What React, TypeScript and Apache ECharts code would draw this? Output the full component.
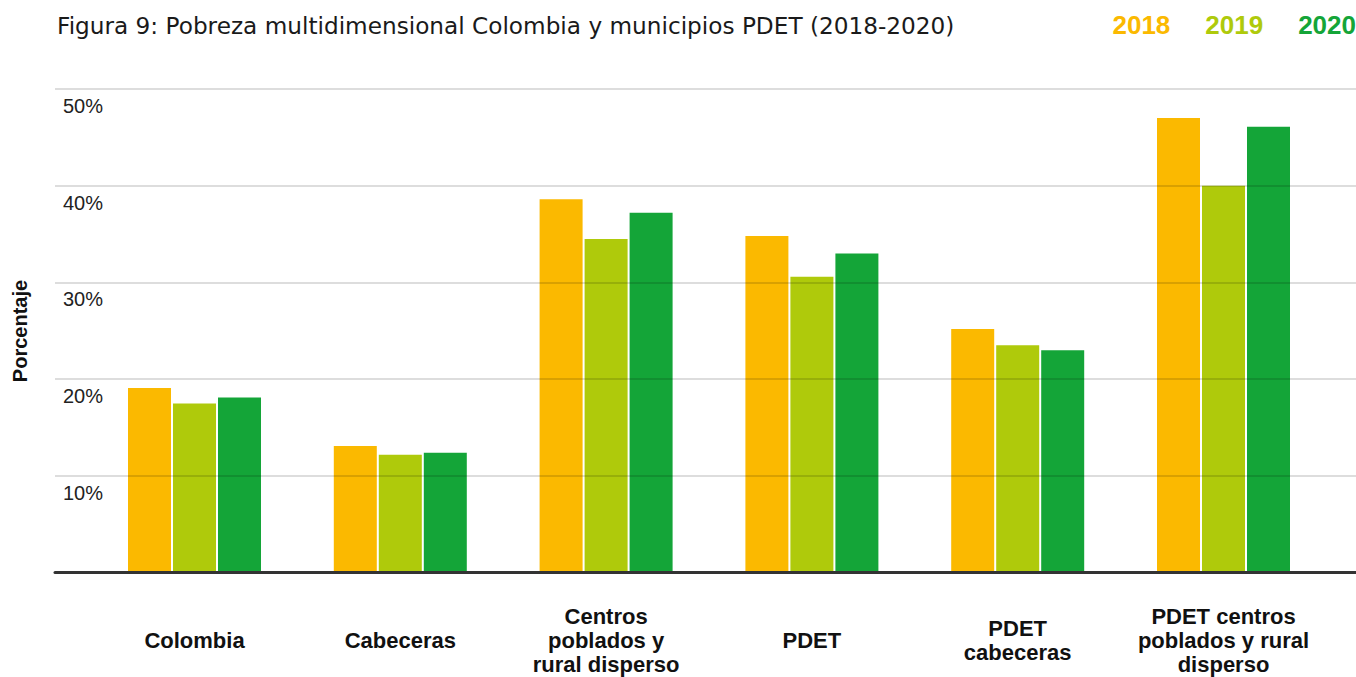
import React, { useEffect, useRef } from "react";
import * as echarts from "echarts";

const categories = [
  "Colombia",
  "Cabeceras",
  "Centros\npoblados y\nrural disperso",
  "PDET",
  "PDET\ncabeceras",
  "PDET centros\npoblados y rural\ndisperso",
];
const years = ["2018", "2019", "2020"];
const values2018 = [19.1, 13.1, 38.6, 34.8, 25.2, 47.0];
const values2019 = [17.5, 12.2, 34.5, 30.6, 23.5, 40.0];
const values2020 = [18.1, 12.4, 37.2, 33.0, 23.0, 46.1];
const yTicks = [0, 10, 20, 30, 40, 50];
const colors = ["#FBB900", "#AFCA0B", "#14A538"];

export default function App() {
  const ref = useRef<HTMLDivElement>(null);
  useEffect(() => {
    if (!ref.current) return;
    const chart = echarts.init(ref.current, null, { renderer: "svg" });
    const seriesData = [values2018, values2019, values2020];
    const option: any = {
      animation: false,
      backgroundColor: "#ffffff",
      title: {
        text: "Figura 9: Pobreza multidimensional Colombia y municipios PDET (2018-2020)",
        left: 52,
        top: 9,
        textStyle: {
          fontFamily: "DejaVu Sans",
          fontWeight: "normal",
          fontSize: 23.2,
          color: "#1a1a1a",
        },
      },
      legend: {
        right: 0,
        top: 12,
        padding: 0,
        itemWidth: 0,
        itemHeight: 0,
        itemGap: 30,
        selectedMode: false,
        data: years.map((y, i) => ({
          name: y,
          icon: "none",
          textStyle: { color: colors[i] },
        })),
        textStyle: {
          fontFamily: "Liberation Sans",
          fontWeight: "bold",
          fontSize: 26,
        },
      },
      graphic: [
        {
          type: "text",
          x: 20,
          y: 331,
          rotation: Math.PI / 2,
          style: {
            text: "Porcentaje",
            fontFamily: "Liberation Sans",
            fontWeight: "bold",
            fontSize: 20,
            fill: "#111",
            align: "center",
            verticalAlign: "middle",
          },
        },
      ],
      grid: [
        { left: 55, right: 0, top: 89, bottom: 104.3 },
        { left: 91.6, right: 29.6, top: 89, bottom: 104.3 },
      ],
      xAxis: [
        {
          gridIndex: 0,
          type: "value",
          min: 0,
          max: 1,
          z: 10,
          axisLine: { show: true, lineStyle: { color: "#333", width: 3 } },
          axisTick: { show: false },
          axisLabel: { show: false },
          splitLine: { show: false },
        },
        {
          gridIndex: 1,
          type: "category",
          data: categories,
          axisLine: { show: false },
          axisTick: { show: false },
          axisLabel: {
            margin: 68,
            verticalAlign: "middle",
            align: "center",
            interval: 0,
            fontFamily: "Liberation Sans",
            fontWeight: "bold",
            fontSize: 22,
            lineHeight: 24,
            color: "#111",
          },
        },
      ],
      yAxis: [
        {
          gridIndex: 0,
          type: "value",
          min: yTicks[0],
          max: yTicks[yTicks.length - 1],
          interval: 10,
          z: 10,
          axisLine: { show: false },
          axisTick: { show: false },
          axisLabel: {
            inside: true,
            verticalAlign: "top",
            padding: [7, 0, 0, 0],
            fontFamily: "Liberation Sans",
            fontSize: 20,
            color: "#222",
            formatter: (v: number) => (v === 0 ? "" : v + "%"),
          },
          splitLine: {
            show: true,
            lineStyle: { color: "rgba(0,0,0,0.18)", width: 1.5 },
          },
        },
        {
          gridIndex: 1,
          type: "value",
          min: 0,
          max: 50,
          show: false,
          splitLine: { show: false },
        },
      ],
      series: years.map((y, i) => ({
        name: y,
        type: "bar",
        xAxisIndex: 1,
        yAxisIndex: 1,
        data: seriesData[i],
        barWidth: 43,
        barGap: "4.65%",
        itemStyle: { color: colors[i] },
        z: 2,
      })),
    };
    chart.setOption(option);
    return () => chart.dispose();
  }, []);
  return (
    <div
      ref={ref}
      style={{ position: "fixed", left: 0, top: 0, width: 1356, height: 677 }}
    />
  );
}
